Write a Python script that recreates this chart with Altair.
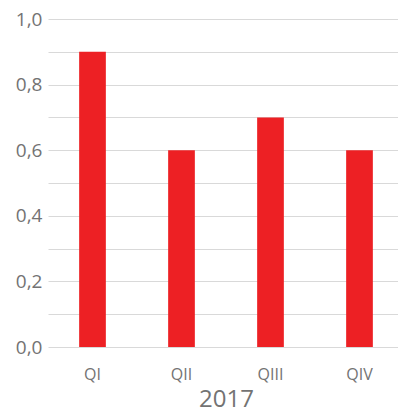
import altair as alt
import pandas as pd

quarters = ["QI", "QII", "QIII", "QIV"]
values = [0.9, 0.6, 0.7, 0.6]

df = pd.DataFrame({"q": quarters, "v": values})

font = "Open Sans"
gray = "#737373"

chart = alt.Chart(df).mark_bar(color="#ED2024").encode(
    x=alt.X("q:N", sort=quarters, title="2017",
            scale=alt.Scale(paddingInner=0.7, paddingOuter=0.35, range=[0, 356]),
            axis=alt.Axis(labelAngle=0, domain=False, ticks=False, labelPadding=19,
                          labelFont=font, labelFontSize=16, labelColor=gray,
                          titleFont=font, titleFontSize=24, titleFontWeight="normal",
                          titleColor=gray, titlePadding=5)),
    y=alt.Y("v:Q", title=None,
            scale=alt.Scale(domain=[0, 1], nice=False),
            axis=alt.Axis(values=[0, 0.1, 0.2, 0.3, 0.4, 0.5, 0.6, 0.7, 0.8, 0.9, 1.0],
                          labelExpr="round(datum.value*10) % 2 == 0 ? replace(format(datum.value, '.1f'), '.', ',') : ''",
                          domain=False, ticks=False, grid=True, gridColor="#d9d9d9",
                          gridWidth=1, labelPadding=6, labelFont=font, labelFontSize=19,
                          labelColor=gray)),
).properties(
    width=350, height=328,
    autosize=alt.AutoSizeParams(type="none"),
    padding={"left": 48, "top": 19, "right": 0, "bottom": 65},
).configure_view(stroke=None)

chart.save("out.html", embed_options={"renderer": "svg", "actions": False})
